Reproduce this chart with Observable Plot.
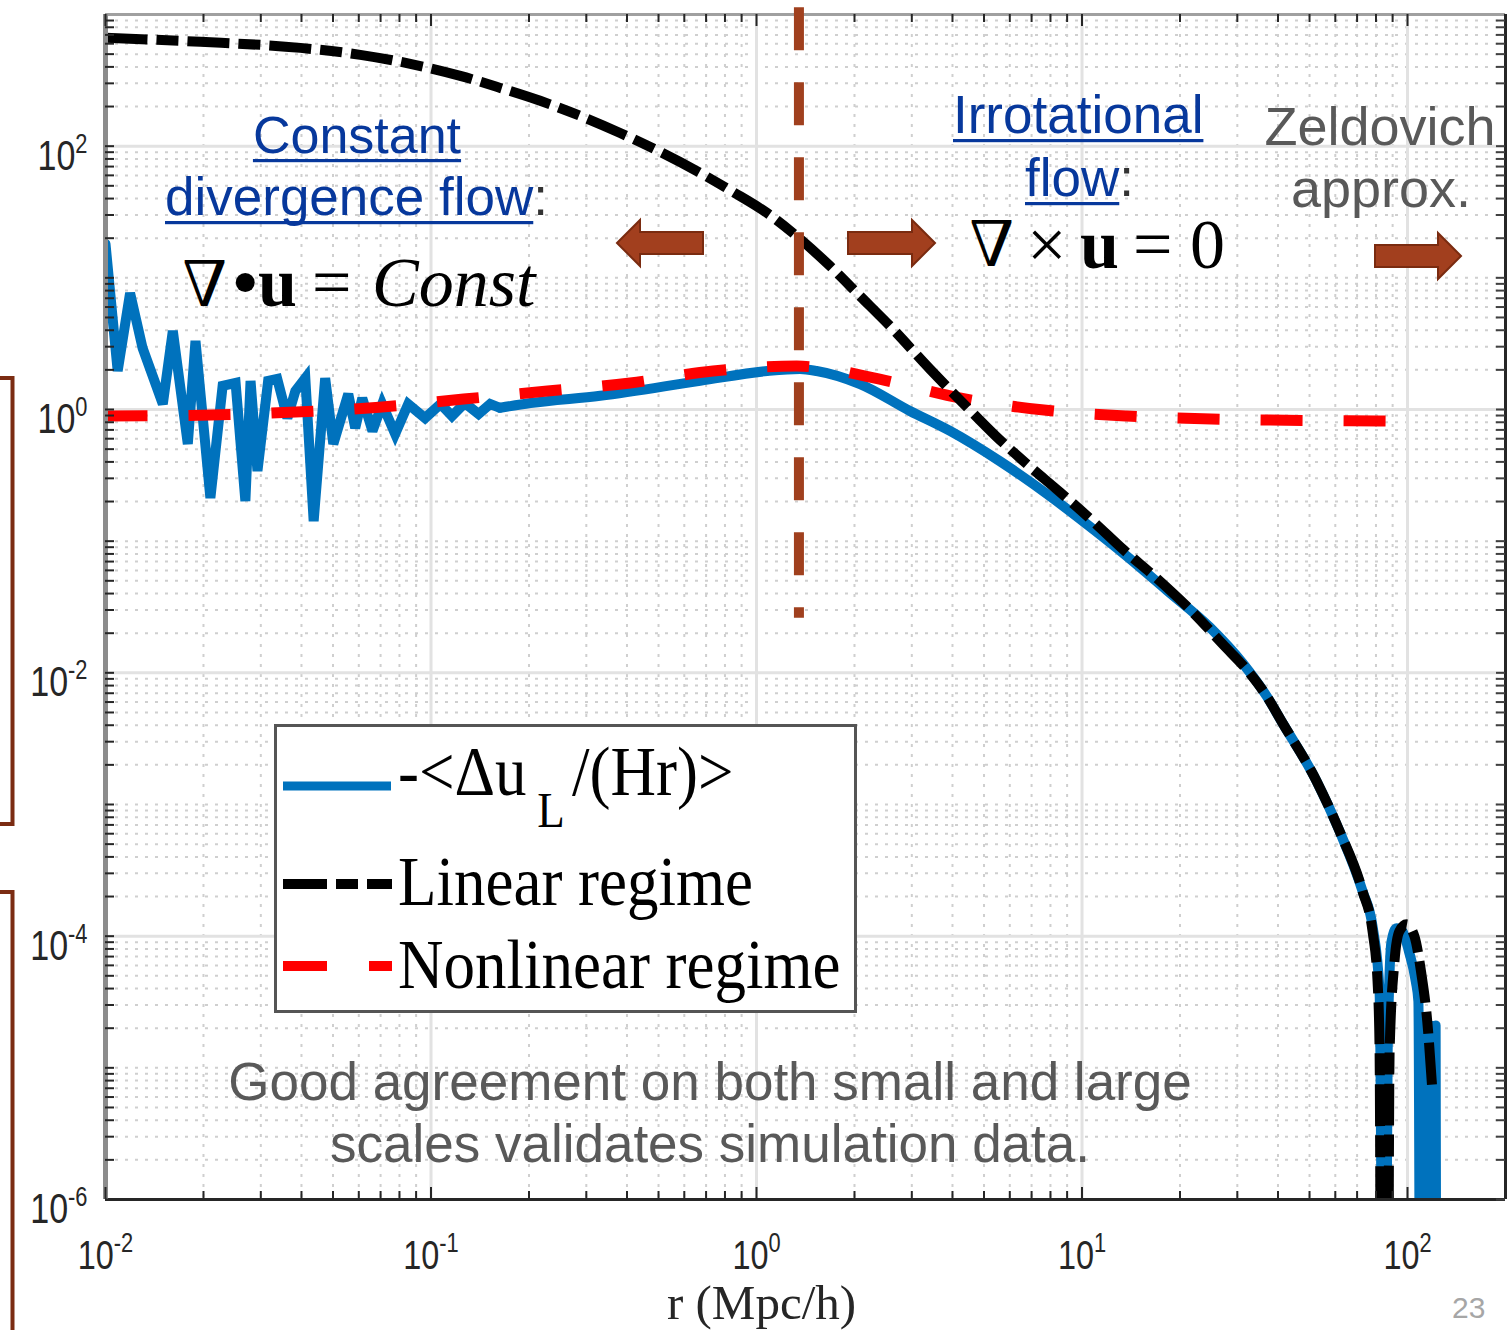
<!DOCTYPE html>
<html><head><meta charset="utf-8">
<script src="https://cdn.jsdelivr.net/npm/d3@7"></script>
<script src="https://cdn.jsdelivr.net/npm/@observablehq/plot@0.6"></script>
<style>
html,body{margin:0;padding:0;background:#fff;}
#wrap{position:relative;width:1507px;height:1330px;overflow:hidden;background:#fff;}
#wrap svg{position:absolute;left:0;top:0;}
</style></head><body><div id="wrap"></div>
<script>
// ---------------- data ----------------
// -<Δu_L/(Hr)>  (blue, solid)
const rBlue = [
  0.0100,0.0109,0.0119,0.0130,0.0150,0.0161,0.0179,0.0189,0.0210,0.0229,
  0.0251,0.0269,0.0279,0.0293,0.0316,0.0337,0.0362,0.0383,0.0411,0.0436,
  0.0473,0.0501,0.0557,0.0585,0.0615,0.0661,0.0708,0.0776,0.0851,0.0959,
  0.107,0.116,0.127,0.140,0.152,0.163,0.202,0.331,0.671,1.08,
  1.36,1.53,2.08,2.96,3.93,5.58,7.96,10.05,13.72,18.20,
  24.67,31.15,36.92,41.33,52.57,61.83,72.77,78.08,82.06,84.9,
  86.9,89.3,92.5,96.4,101,106,108,110,113,114.5,
  117.5,119.5,122,123
];
const vBlue = [
  18.1,1.96,7.67,2.93,1.10,3.95,0.547,3.32,0.213,1.51,
  1.59,0.202,1.65,0.341,1.65,1.71,0.861,1.38,1.73,0.142,
  1.73,0.547,1.31,0.723,1.22,0.687,1.10,0.652,1.10,0.861,
  1.10,0.893,1.12,0.925,1.10,1.03,1.12,1.27,1.65,1.96,
  2.03,1.96,1.56,0.975,0.687,0.406,0.2202,0.1421,0.0770,0.0425,
  0.02225,0.01185,0.00665,0.00415,0.001503,0.000627,0.000219,1.19e-4,3.81e-5,1e-9,
  1.33e-5,9.14e-5,1.15e-4,1.09e-4,7.67e-5,4.54e-5,3.2e-5,1e-9,2.1e-5,1e-9,
  2.1e-5,1e-9,2.1e-5,1e-9
];
// Linear regime (black, dashed)
const rLinear = [
  0.0100,0.01957,0.03969,0.06064,0.08636,0.1230,0.1632,0.2165,0.2872,0.3811,
  0.5056,0.6709,0.8470,1.077,1.360,1.681,2.078,2.570,3.409,4.428,
  5.397,6.767,8.545,10.79,13.34,17.08,21.73,27.05,32.73,36.92,
  41.33,52.57,61.83,72.77,78.08,80.90,82.06,83.5,86.5,88.1,
  91.2,94.4,99.3,105,110,115,119
];
const vLinear = [
  665,620,558,494,422,342,277,221,170,126,
  90.5,62.7,44.9,31.1,19.75,12.31,7.29,4.31,2.03,1.045,
  0.640,0.3855,0.2361,0.1421,0.0871,0.0515,0.0294,0.01652,0.00995,0.00665,
  0.00415,0.001503,0.000627,0.000219,1.09e-4,4.54e-5,1.41e-5,1e-9,1e-9,1.33e-5,
  6.44e-5,1.09e-4,1.23e-4,9.98e-5,5.41e-5,2.25e-5,7.2e-6
];
// Nonlinear regime (red, dashed)
const rNonlinear = [0.0100,0.0211,0.0383,0.0693,0.126,0.228,0.409,0.735,1.33,1.58,2.39,4.25,7.64,13.7,25.0,82.0,100];
const vNonlinear = [0.891,0.908,0.957,1.04,1.20,1.38,1.59,1.96,2.14,2.07,1.70,1.22,0.991,0.893,0.847,0.818,0.815];

// regime boundary (brown dashed vertical)
const splitR = [1.35];
const splitTop = 1125, splitBottom = 0.026;

// axes
const xMajor = [0.01, 0.1, 1, 10, 100];
const yMajor = [1e-6, 1e-4, 1e-2, 1, 100];
const xDecades = [0.01, 0.1, 1, 10, 100];
const yDecades = [1e-6, 1e-5, 1e-4, 1e-3, 1e-2, 1e-1, 1, 10, 100];
const minorMult = [2, 3, 4, 5, 6, 7, 8, 9];
const xLabel = "r (Mpc/h)";
const seriesLabels = ["Linear regime", "Nonlinear regime"];

// ---------------- build ----------------
const W = 1507, H = 1330;
const mL = 105, mR = 2, mT = 14, mB = 131;
const frameW = W - mL - mR, frameH = H - mT - mB;

const xMinor = xDecades.flatMap(d => minorMult.map(m => +(d * m).toPrecision(3))).filter(v => v <= 200);
const yAllTicks = yDecades.flatMap(d => [1, ...minorMult].map(m => +(d * m).toPrecision(3)));
const yMinor = yAllTicks.filter(v => !yMajor.includes(v));

const blueData = rBlue.map((r, i) => ({r, v: vBlue[i]}));
const blueNoisy = blueData.filter(d => d.r <= 0.163);   // jagged small-scale part
const blueSmooth = blueData.filter(d => d.r >= 0.163);  // smooth large-scale part
const linearData = rLinear.map((r, i) => ({r, v: vLinear[i]}));
const nonlinearData = rNonlinear.map((r, i) => ({r, v: vNonlinear[i]}));

const SANS = "'Liberation Sans', Arial, Helvetica, sans-serif";
const SERIF = "'Liberation Serif', 'Times New Roman', Times, serif";

const plot = Plot.plot({
  width: W, height: H,
  marginLeft: mL, marginRight: mR, marginTop: mT, marginBottom: mB,
  style: {background: "transparent", overflow: "visible"},
  x: {type: "log", domain: [0.01, 200], axis: null},
  y: {type: "log", domain: [1e-6, 1e3], axis: null},
  marks: [
    // grids
    Plot.ruleX(xMinor, {stroke: "#cfcfcf", strokeWidth: 2, strokeDasharray: "3,7"}),
    Plot.ruleY(yMinor, {stroke: "#cfcfcf", strokeWidth: 2, strokeDasharray: "3,7"}),
    Plot.ruleX(xMajor, {stroke: "#e2e2e2", strokeWidth: 3}),
    Plot.ruleY(yMajor, {stroke: "#e2e2e2", strokeWidth: 3}),
    // data
    Plot.line(blueNoisy, {x: "r", y: "v", stroke: "#0072bd", strokeWidth: 10, clip: true, strokeLinejoin: "miter", strokeMiterlimit: 3}),
    Plot.line(blueSmooth, {x: "r", y: "v", stroke: "#0072bd", strokeWidth: 10, clip: true, strokeLinejoin: "round", curve: "monotone-x"}),
    Plot.line(nonlinearData, {x: "r", y: "v", stroke: "#ff0000", strokeWidth: 11, strokeDasharray: "42,41", strokeLinecap: "butt", clip: true, curve: "monotone-x"}),
    Plot.line(linearData, {x: "r", y: "v", stroke: "#000000", strokeWidth: 10, strokeDasharray: "42,9,22,9", strokeLinecap: "butt", clip: true, curve: "monotone-x"}),
    // box
    Plot.ruleY([1e3], {stroke: "#a0a0a0", strokeWidth: 3}),
    Plot.ruleY([1e-6], {stroke: "#262626", strokeWidth: 3}),
    Plot.ruleX([200], {stroke: "#262626", strokeWidth: 3}),
    Plot.ruleX([0.01], {stroke: "#8c8c8c", strokeWidth: 5}),
    // ticks (inward)
    Plot.tickX(xMajor, {x: d => d, insetTop: frameH - 12, stroke: "#262626", strokeWidth: 2}),
    Plot.tickX(xMinor, {x: d => d, insetTop: frameH - 8, stroke: "#262626", strokeWidth: 2}),
    Plot.tickX(xMajor, {x: d => d, insetBottom: frameH - 12, stroke: "#262626", strokeWidth: 2}),
    Plot.tickX(xMinor, {x: d => d, insetBottom: frameH - 8, stroke: "#262626", strokeWidth: 2}),
    Plot.tickY(yAllTicks, {y: d => d, insetRight: frameW - 9, stroke: "#262626", strokeWidth: 2}),
    Plot.tickY(yAllTicks, {y: d => d, insetLeft: frameW - 9, stroke: "#404040", strokeWidth: 2}),
    // regime boundary
    Plot.ruleX(splitR, {x: d => d, y1: () => splitTop, y2: () => splitBottom, stroke: "#a0401e", strokeWidth: 10, strokeDasharray: "43,32", strokeLinecap: "butt"}),
    // tick labels
    Plot.axisX(xMajor, {anchor: "bottom", tickSize: 0, tickPadding: 41, fontSize: 40, fontFamily: SANS, label: null,
      tickFormat: d => "10^" + Math.round(Math.log10(d))}),
    Plot.axisY(yMajor, {anchor: "left", tickSize: 0, tickPadding: 18, dy: 10, fontSize: 42, fontFamily: SANS, label: null,
      tickFormat: d => "10^" + Math.round(Math.log10(d))}),
    // axis title
    Plot.text([xLabel], {text: d => d, frameAnchor: "bottom", dx: -44, dy: 119, fontSize: 49, fontFamily: SERIF, fill: "#262626"})
  ]
});
document.getElementById("wrap").appendChild(plot);

// superscript exponents + MATLAB-like narrow tick labels
d3.select(plot).selectAll("text").each(function () {
  const m = /^10\^(-?\d+)$/.exec(this.textContent);
  if (!m) return;
  const sel = d3.select(this);
  sel.text(null);
  sel.append("tspan").text("10");
  sel.append("tspan").attr("font-size", 27).attr("dy", -17).text(m[1]);
  sel.attr("fill", "#262626");
  const tr = this.getAttribute("transform") || "";
  this.setAttribute("transform", tr + " scale(0.81,1)");
});

// ---------------- slide overlay: annotations, arrows, legend ----------------
const ov = d3.select("#wrap").append("svg").attr("width", W).attr("height", H).style("pointer-events", "none");
const BROWN = "#7b2c12", ARROW = "#a23f1e", LINK = "#07389c", GRAY = "#595959";

// brackets at the slide's left edge
ov.append("path").attr("d", "M0,378 H12.5 V824 H0").attr("fill", "none").attr("stroke", BROWN).attr("stroke-width", 4);
ov.append("path").attr("d", "M0,892 H12.5 V1335").attr("fill", "none").attr("stroke", BROWN).attr("stroke-width", 4);

// block arrows
const arrows = [
  [[617,243],[640,220],[640,232],[703,232],[703,254],[640,254],[640,266]],
  [[935,243],[912,220],[912,232],[848,232],[848,254],[912,254],[912,266]],
  [[1461,256],[1438,233],[1438,245],[1375,245],[1375,267],[1438,267],[1438,279]]
];
arrows.forEach(p => ov.append("polygon").attr("points", p.map(q => q.join(",")).join(" "))
  .attr("fill", ARROW).attr("stroke", "#7a2b10").attr("stroke-width", 2));

function underline(span, y, color) {
  const n = span.node();
  const x0 = n.getStartPositionOfChar(0).x;
  const len = n.getComputedTextLength();
  ov.append("rect").attr("x", x0).attr("y", y).attr("width", len).attr("height", 3.2).attr("fill", color);
}
function txt(x, y, size, family, fill, anchor) {
  return ov.append("text").attr("x", x).attr("y", y).attr("font-size", size).attr("font-family", family)
    .attr("fill", fill).attr("text-anchor", anchor || "start");
}
// nabla drawn as an upside-down Delta of the serif font (thin/thick strokes like Times)
function nabla(x, top, size) {
  ov.append("text").attr("transform", `translate(${x},${top}) scale(1,-1)`)
    .attr("font-size", size).attr("font-family", SERIF).attr("fill", "#000").text("Δ");
}

// Constant divergence flow
{
  const t = txt(357, 153, 52, SANS, LINK, "middle");
  const s = t.append("tspan").text("Constant");
  underline(s, 159, LINK);
  const t2 = txt(165, 215, 53, SANS, LINK);
  const s2 = t2.append("tspan").text("divergence flow");
  t2.append("tspan").attr("fill", "#333").text(":");
  underline(s2, 221, LINK);
  nabla(182, 260, 70);
  const e = txt(233, 306, 70, SERIF, "#000");
  e.append("tspan").attr("x", 233).attr("font-weight", "bold").text("•");
  e.append("tspan").attr("x", 258).attr("font-weight", "bold").text("u");
  e.append("tspan").attr("x", 312).text("=");
  e.append("tspan").attr("x", 372).attr("font-style", "italic").text("Const");
}
// Irrotational flow
{
  const t = txt(953, 133, 53, SANS, LINK);
  const s = t.append("tspan").text("Irrotational");
  underline(s, 139, LINK);
  const t2 = txt(1025, 196, 53, SANS, LINK);
  const s2 = t2.append("tspan").text("flow");
  t2.append("tspan").attr("fill", "#333").text(":");
  underline(s2, 202, LINK);
  nabla(969, 220, 70);
  const e = txt(1027, 268, 70, SERIF, "#000");
  e.append("tspan").attr("x", 1027).text("×");
  e.append("tspan").attr("x", 1080).attr("font-weight", "bold").text("u");
  e.append("tspan").attr("x", 1133).text("=");
  e.append("tspan").attr("x", 1190).text("0");
}
// Zeldovich approx.
txt(1380, 145, 54, SANS, GRAY, "middle").text("Zeldovich");
txt(1381, 207, 54, SANS, GRAY, "middle").text("approx.");
// conclusion
txt(710, 1100, 53, SANS, GRAY, "middle").text("Good agreement on both small and large");
txt(710, 1162, 53, SANS, GRAY, "middle").text("scales validates simulation data.");
// slide number
txt(1452, 1318, 30, SANS, "#a6a6a6").text("23");

// legend
{
  const g = ov.append("g");
  g.append("rect").attr("x", 275.5).attr("y", 725.5).attr("width", 580).attr("height", 286)
    .attr("fill", "#fff").attr("stroke", "#555").attr("stroke-width", 3);
  g.append("line").attr("x1", 283).attr("x2", 391).attr("y1", 786).attr("y2", 786)
    .attr("stroke", "#0072bd").attr("stroke-width", 9);
  g.append("line").attr("x1", 283).attr("x2", 392).attr("y1", 884).attr("y2", 884)
    .attr("stroke", "#000").attr("stroke-width", 10).attr("stroke-dasharray", "44,9,22,9");
  g.append("line").attr("x1", 283).attr("x2", 392).attr("y1", 966).attr("y2", 966)
    .attr("stroke", "#ff0000").attr("stroke-width", 10).attr("stroke-dasharray", "44,42");
  const l1 = g.append("text").attr("transform", "translate(398,795) scale(0.9,1)")
    .attr("font-family", SERIF).attr("font-size", 70).attr("fill", "#000");
  l1.append("tspan").text("-<Δu");
  l1.append("tspan").attr("font-size", 50).attr("dy", 32).attr("dx", 12).text("L");
  l1.append("tspan").attr("dy", -32).attr("dx", 8).text("/(Hr)>");
  g.append("text").attr("transform", "translate(398,905) scale(0.9,1)")
    .attr("font-family", SERIF).attr("font-size", 70).attr("fill", "#000").text(seriesLabels[0]);
  g.append("text").attr("transform", "translate(398,988) scale(0.9,1)")
    .attr("font-family", SERIF).attr("font-size", 70).attr("fill", "#000").text(seriesLabels[1]);
}
</script>
</body></html>
